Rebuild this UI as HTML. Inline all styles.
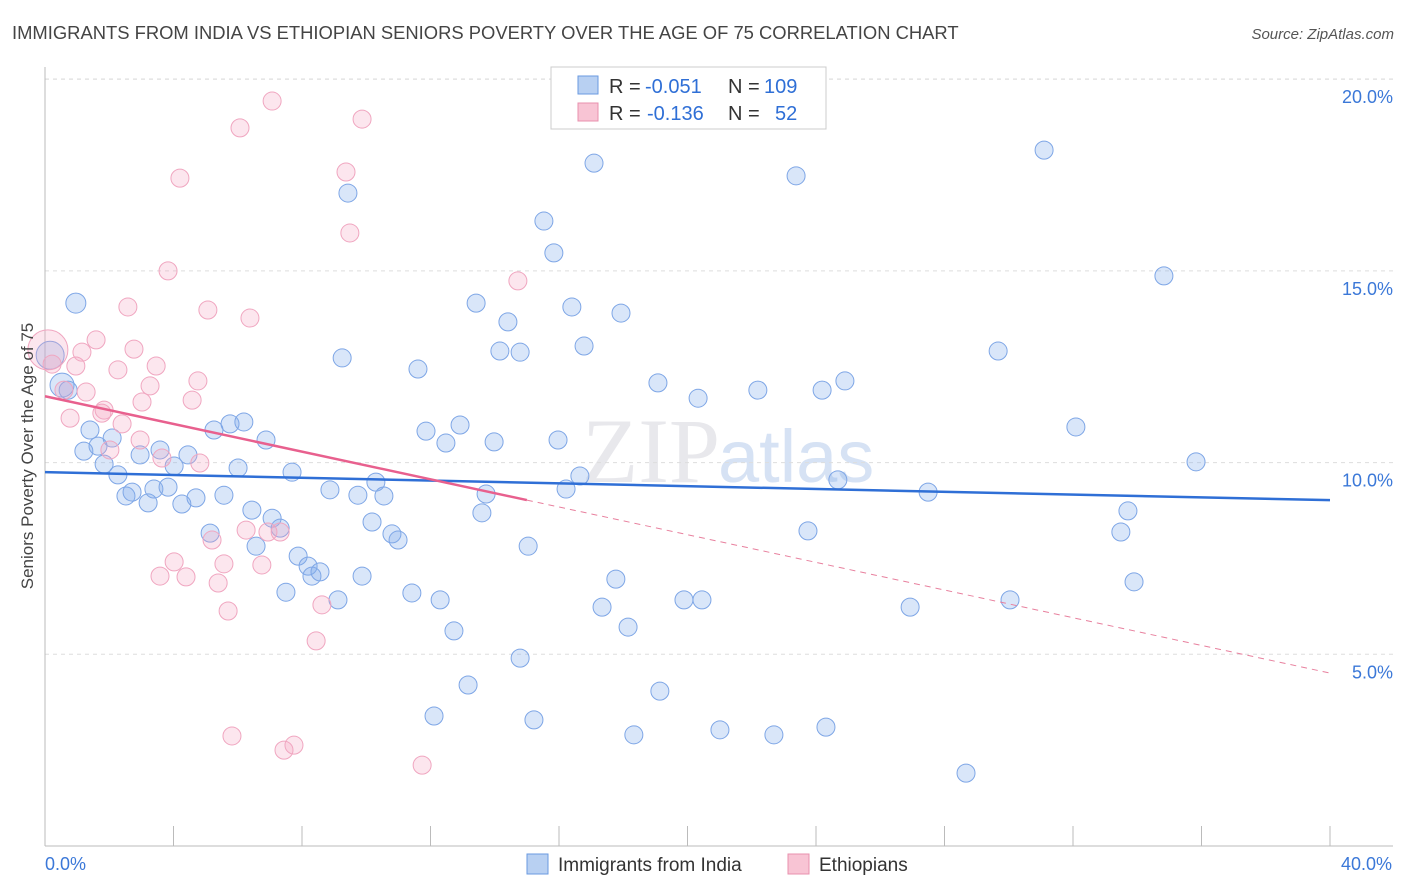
<!DOCTYPE html>
<html><head><meta charset="utf-8"><style>
body{margin:0;background:#fff;font-family:"Liberation Sans",sans-serif}
svg{display:block}
</style></head><body>
<svg id="chart" width="1406" height="892">
<text x="12" y="39" font-size="18.4" fill="#444">IMMIGRANTS FROM INDIA VS ETHIOPIAN SENIORS POVERTY OVER THE AGE OF 75 CORRELATION CHART</text>
<text x="1394" y="39" font-size="15" fill="#555" font-style="italic" text-anchor="end">Source: ZipAtlas.com</text>
<text x="720" y="482" font-size="92" fill="#e8e8ec" text-anchor="end" font-family="Liberation Serif">ZIP</text>
<text x="718" y="482" font-size="74" fill="#d6e2f4">atlas</text>
<g id="grid"></g><g id="axes"></g><g id="marks"></g><g id="lines"></g>
<text transform="translate(33,456) rotate(-90)" font-size="17" fill="#444" text-anchor="middle">Seniors Poverty Over the Age of 75</text>
<g>
<rect x="551" y="67" width="275" height="62" fill="#fff" stroke="#ccc"/>
<rect x="578" y="76" width="20" height="18" fill="#b8d0f2" stroke="#6a9ae0"/>
<rect x="578" y="103" width="20" height="18" fill="#f8c4d4" stroke="#e890ae"/>
<text x="609" y="93" font-size="20" fill="#333">R =</text>
<text x="645" y="93" font-size="20" fill="#2f6fd6">-0.051</text>
<text x="728" y="93" font-size="20" fill="#333">N =</text>
<text x="764" y="93" font-size="20" fill="#2f6fd6">109</text>
<text x="609" y="120" font-size="20" fill="#333">R =</text>
<text x="647" y="120" font-size="20" fill="#2f6fd6">-0.136</text>
<text x="728" y="120" font-size="20" fill="#333">N =</text>
<text x="775" y="120" font-size="20" fill="#2f6fd6">52</text>
</g>
<g>
<rect x="527" y="854" width="21" height="20" fill="#b8d0f2" stroke="#6a9ae0"/>
<text x="558" y="871" font-size="19" fill="#333">Immigrants from India</text>
<rect x="788" y="854" width="21" height="20" fill="#f8c4d4" stroke="#e890ae"/>
<text x="819" y="871" font-size="19" fill="#333">Ethiopians</text>
</g>
</svg>
<script>
const xTicks=[0,4,8,12,16,20,24,28,32,36,40];
const yTicks=[5,10,15,20];
const yTickLabels=["5.0%","10.0%","15.0%","20.0%"];
const xEndLabels=["0.0%","40.0%"];
const indiaX=[0.96,0.16,0.53,0.72,1.40,2.09,1.65,1.21,1.84,2.27,2.96,3.58,4.02,4.45,2.52,2.71,3.21,3.39,3.83,4.26,4.70,5.57,5.26,5.76,6.19,6.01,6.88,7.69,5.14,6.44,6.57,7.07,7.32,7.50,7.88,8.19,8.31,8.56,9.12,8.87,9.25,9.43,9.74,10.18,10.30,10.55,10.80,10.99,9.87,11.42,11.61,11.86,12.48,12.92,12.30,12.73,13.17,12.11,13.42,13.73,13.60,13.98,14.16,14.41,14.79,15.04,14.79,15.22,15.53,15.84,15.97,16.22,16.40,16.65,16.78,17.09,17.34,17.77,17.93,18.15,18.33,19.08,19.14,19.89,20.33,20.45,21.01,22.19,22.69,23.38,23.75,24.19,24.31,24.68,24.90,26.93,27.49,28.67,29.67,30.04,31.10,32.09,33.49,33.71,33.90,34.83,35.83];
const indiaY=[14.16,12.80,12.02,11.89,10.85,10.64,10.43,10.30,9.96,9.68,10.20,10.33,9.91,10.20,9.13,9.23,8.95,9.31,9.36,8.92,9.08,9.15,10.85,11.01,11.06,9.86,10.59,9.75,8.16,8.76,7.82,8.55,8.29,6.62,7.56,7.30,7.04,7.15,6.42,9.29,12.73,17.03,9.15,8.45,9.49,9.13,8.14,7.98,7.04,6.60,12.44,10.82,10.51,10.98,6.42,5.61,4.20,3.39,14.16,9.18,8.69,10.54,12.91,13.67,12.88,7.82,4.90,3.29,16.30,15.47,10.59,9.31,14.06,9.65,13.04,17.81,6.23,6.96,13.90,5.71,2.90,12.08,4.04,6.42,11.68,6.42,3.03,11.89,2.90,17.48,8.22,11.89,3.10,9.55,12.13,6.23,9.23,1.90,12.91,6.42,18.15,10.93,8.19,8.74,6.89,14.87,10.02];
const ethX=[0.09,0.22,0.59,0.78,0.96,1.15,1.28,1.59,1.77,1.84,2.02,2.27,2.40,2.58,2.77,2.96,3.02,3.27,3.46,3.64,3.83,4.02,3.58,4.20,4.39,4.58,4.76,4.82,5.07,5.20,5.39,5.57,5.70,5.82,6.07,6.26,6.38,6.75,6.94,7.07,7.32,7.44,7.75,8.62,8.44,9.37,9.49,9.87,11.74,14.72];
const ethY=[12.94,12.57,11.89,11.16,12.52,12.88,11.84,13.20,11.29,11.37,10.33,12.42,11.01,14.06,12.96,10.59,11.58,12.00,12.52,10.12,15.00,7.41,7.04,17.42,7.02,11.63,12.13,9.99,13.98,7.98,6.86,7.36,6.13,2.87,18.73,8.24,13.77,7.33,8.19,19.43,8.19,2.50,2.63,6.29,5.35,17.58,15.99,18.96,2.11,14.74];
const indiaTrend=[9.75,9.02];
const ethTrend=[11.73,4.51];
const ethSolidEnd=15;
const NS="http://www.w3.org/2000/svg";
const X=v=>45+v*32.125, Y=v=>846-v*38.34;
function mk(t,a,p){const e=document.createElementNS(NS,t);for(const k in a)e.setAttribute(k,a[k]);document.getElementById(p).appendChild(e);return e;}
yTicks.forEach((t,i)=>{
 const g=mk('line',{x1:45,x2:1393,y1:Y(t),y2:Y(t),stroke:'#ddd','stroke-dasharray':'4,4'},'grid');
 
 
 const l=mk('text',{x:1393,y:Y(t)+24,'font-size':18,fill:'#3b78d8','text-anchor':'end'},'axes');l.textContent=yTickLabels[i];
 
 
});
mk('line',{x1:45,x2:1393,y1:79,y2:79,stroke:'#ddd','stroke-dasharray':'4,4'},'grid');
mk('line',{x1:45,x2:45,y1:67,y2:846,stroke:'#bbb'},'axes');
mk('line',{x1:45,x2:1393,y1:846,y2:846,stroke:'#bbb'},'axes');
xTicks.forEach(t=>{const k=mk('line',{x1:X(t),x2:X(t),y1:846,y2:826,stroke:'#bbb'},'axes');
 
 });
[[0,'start',xEndLabels[0]],[40,'end',xEndLabels[1]]].forEach(([v,a,s])=>{const t=mk('text',{x:X(v)+(v?62:0),y:870,'font-size':18,fill:'#3b78d8','text-anchor':a},'axes');t.textContent=s;
 
 });
indiaX.forEach((x,i)=>{const r=i==1?14:(i==2?12:(i==0?10:9));
 const c=mk('circle',{cx:X(x),cy:Y(indiaY[i]),r:r,fill:'rgba(130,172,235,0.3)',stroke:'#7ea6e6','stroke-width':1},'marks');
 
 });
ethX.forEach((x,i)=>{const r=i==0?20:9;
 const c=mk('circle',{cx:X(x),cy:Y(ethY[i]),r:r,fill:'rgba(245,165,195,0.28)',stroke:'#f0a6c0','stroke-width':1},'marks');
 
 });
const bl=mk('line',{x1:X(0),y1:Y(indiaTrend[0]),x2:X(40),y2:Y(indiaTrend[1]),stroke:'#2f6fd6','stroke-width':2.5},'lines');


const ey=v=>ethTrend[0]+(ethTrend[1]-ethTrend[0])*v/40;
const pl=mk('line',{x1:X(0),y1:Y(ey(0)),x2:X(ethSolidEnd),y2:Y(ey(ethSolidEnd)),stroke:'#e8608e','stroke-width':2.5},'lines');


const pd=mk('line',{x1:X(ethSolidEnd),y1:Y(ey(ethSolidEnd)),x2:X(40),y2:Y(ey(40)),stroke:'#e8809e','stroke-width':1,'stroke-dasharray':'6,5'},'lines');


</script>
</body></html>
